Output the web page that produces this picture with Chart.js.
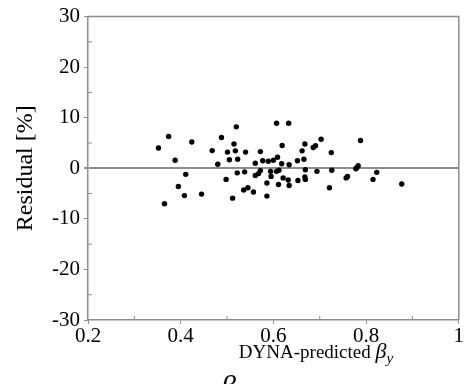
<!DOCTYPE html>
<html lang="en">
<head>
<meta charset="UTF-8">
<title>Residual vs DYNA-predicted</title>
<script src="https://cdn.jsdelivr.net/npm/chart.js@4.4.1/dist/chart.umd.min.js"></script>
<style>
  html, body { margin: 0; padding: 0; background: #fff; }
</style>
</head>
<body>
<canvas id="chart" width="464" height="384"></canvas>
<script>
  // DYNA-predicted beta_y (x) and residual in percent (y)
  const predicted = [
    0.352, 0.374, 0.388, 0.365, 0.395, 0.408, 0.411, 0.424, 0.445, 0.468,
    0.480, 0.488, 0.498, 0.501, 0.505, 0.512, 0.515, 0.518, 0.520, 0.522,
    0.523, 0.536, 0.538, 0.540, 0.545, 0.557, 0.561, 0.561, 0.568, 0.572,
    0.572, 0.577, 0.586, 0.586, 0.589, 0.594, 0.595, 0.600, 0.607, 0.607,
    0.609, 0.611, 0.612, 0.618, 0.619, 0.621, 0.632, 0.633, 0.634, 0.634,
    0.652, 0.653, 0.662, 0.666, 0.668, 0.668, 0.669, 0.669, 0.686, 0.691,
    0.694, 0.703, 0.721, 0.725, 0.726, 0.757, 0.760, 0.778, 0.780, 0.783,
    0.788, 0.815, 0.823, 0.877
  ];
  const residual = [
    4.0, 6.3, 1.6, -7.0, -3.6, -5.4, -1.2, 5.2, -5.1, 3.5,
    0.8, 6.1, -2.2, 3.2, 1.7, -5.9, 4.8, 3.45, 8.2, -0.9,
    1.8, -4.3, -0.7, 3.2, -3.85, -4.7, 1.0, -1.4, -1.05, -0.45,
    3.3, 1.5, -2.9, -5.5, 1.4, -0.6, -1.6, 1.6, 8.9, -0.6,
    2.2, -3.2, -0.4, 0.9, 4.5, -1.9, -2.3, 8.9, 0.7, -3.4,
    1.5, -2.4, 3.45, 1.8, 4.8, -1.7, -0.3, -2.2, 4.1, 4.45,
    -0.6, 5.75, -3.85, 3.1, -0.4, -1.9, -1.6, -0.1, 0.1, 0.5,
    5.5, -2.2, -0.8, -3.1
  ];
  const xTicks = [0.2, 0.4, 0.6, 0.8, 1];
  const xMinorTicks = [0.3, 0.5, 0.7, 0.9];
  const yTicks = [-30, -20, -10, 0, 10, 20, 30];
  const yMinorTicks = [-25, -15, -5, 5, 15, 25];

  const axisGray = '#8c8c8c';
  const serif = "'Liberation Serif', 'Times New Roman', serif";

  // box, inward minor ticks and axis titles
  const frame = {
    id: 'frame',
    afterDraw(chart) {
      const { ctx, chartArea: a, scales } = chart;
      ctx.save();
      ctx.strokeStyle = axisGray;
      ctx.lineWidth = 1.5;
      ctx.beginPath();
      ctx.moveTo(a.left, a.top);
      ctx.lineTo(a.right, a.top);
      ctx.lineTo(a.right, a.bottom);
      ctx.stroke();

      ctx.lineWidth = 1;
      ctx.beginPath();
      xMinorTicks.forEach(v => {
        const px = scales.x.getPixelForValue(v);
        ctx.moveTo(px, a.bottom);
        ctx.lineTo(px, a.bottom - 4);
      });
      yMinorTicks.forEach(v => {
        const py = scales.y.getPixelForValue(v);
        ctx.moveTo(a.left, py);
        ctx.lineTo(a.left + 4, py);
      });
      ctx.stroke();

      ctx.fillStyle = '#000';
      ctx.textBaseline = 'alphabetic';

      // y title
      ctx.save();
      ctx.translate(32, (a.top + a.bottom) / 2);
      ctx.rotate(-Math.PI / 2);
      ctx.font = '24px ' + serif;
      ctx.textAlign = 'center';
      ctx.fillText('Residual [%]', 0, 0);
      ctx.restore();

      // x title with italic beta and subscript y
      const base = 358;
      const part1 = 'DYNA-predicted ';
      ctx.font = '19px ' + serif;
      const w1 = ctx.measureText(part1).width;
      ctx.font = 'italic 22px ' + serif;
      const w2 = ctx.measureText('\u03b2').width;
      ctx.font = 'italic 15px ' + serif;
      const w3 = ctx.measureText('y').width;
      let x = 316 - (w1 + w2 + w3) / 2;
      ctx.textAlign = 'left';
      ctx.font = '19px ' + serif;
      ctx.fillText(part1, x, base);
      x += w1;
      ctx.font = 'italic 22px ' + serif;
      ctx.fillText('\u03b2', x, base);
      x += w2;
      ctx.font = 'italic 15px ' + serif;
      ctx.fillText('y', x, base + 5);

      // caption symbol below the plot, cut by the canvas edge
      ctx.font = 'italic 30px ' + serif;
      ctx.fillText('\u03b2', 221, 396);
      ctx.restore();
    }
  };

  new Chart(document.getElementById('chart'), {
    type: 'scatter',
    data: {
      datasets: [{
        data: predicted.map((p, i) => ({ x: p, y: residual[i] })),
        backgroundColor: '#000',
        borderWidth: 0,
        pointRadius: 2.7,
        pointHoverRadius: 2.7
      }]
    },
    options: {
      responsive: false,
      animation: false,
      layout: { padding: { top: 14, right: 2, left: 0, bottom: 0 } },
      plugins: {
        legend: { display: false },
        tooltip: { enabled: false }
      },
      scales: {
        x: {
          type: 'linear',
          min: 0.2,
          max: 1,
          afterBuildTicks: scale => { scale.ticks = xTicks.map(v => ({ value: v })); },
          afterFit: scale => { scale.height = 64; },
          ticks: {
            font: { family: serif, size: 21 },
            color: '#000',
            padding: 0,
            maxRotation: 0,
            callback: v => (v === 1 ? '1' : v.toFixed(1))
          },
          grid: { drawOnChartArea: false, drawTicks: true, tickLength: 4, tickColor: axisGray },
          border: { display: true, color: axisGray, width: 1.5 }
        },
        y: {
          min: -30,
          max: 30,
          afterBuildTicks: scale => { scale.ticks = yTicks.map(v => ({ value: v })); },
          afterFit: scale => { scale.width = 88; },
          ticks: {
            font: { family: serif, size: 21 },
            color: '#000',
            padding: 4,
            callback: v => String(v)
          },
          grid: {
            drawOnChartArea: true,
            drawTicks: true,
            tickLength: 4,
            tickColor: axisGray,
            color: c => (c.tick && c.tick.value === 0 ? axisGray : 'rgba(0,0,0,0)'),
            lineWidth: c => (c.tick && c.tick.value === 0 ? 2 : 1)
          },
          border: { display: true, color: axisGray, width: 1.5 }
        }
      }
    },
    plugins: [frame]
  });
</script>
</body>
</html>
